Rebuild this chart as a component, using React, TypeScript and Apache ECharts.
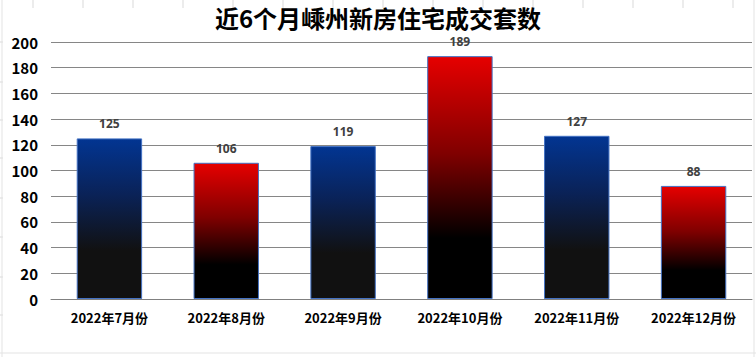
import React, { useEffect, useRef } from "react";
import * as echarts from "echarts";

const categories = ["2022年7月份", "2022年8月份", "2022年9月份", "2022年10月份", "2022年11月份", "2022年12月份"];
const values = [125, 106, 119, 189, 127, 88];
const barTheme = ["blue", "red", "blue", "red", "blue", "red"];

const blueGrad = () =>
  new echarts.graphic.LinearGradient(0, 0, 0, 1, [
    { offset: 0, color: "#023592" },
    { offset: 0.35, color: "#0a2257" },
    { offset: 0.7, color: "#111111" },
    { offset: 1, color: "#111111" },
  ]);
const redGrad = () =>
  new echarts.graphic.LinearGradient(0, 0, 0, 1, [
    { offset: 0, color: "#e60000" },
    { offset: 0.4, color: "#800000" },
    { offset: 0.75, color: "#000000" },
    { offset: 1, color: "#000000" },
  ]);

export default function App() {
  const ref = useRef<HTMLDivElement>(null);
  useEffect(() => {
    const chart = echarts.init(ref.current!, null, { renderer: "svg" });
    const bgLines: any[] = [];
    for (let x = 33; x < 756; x += 50) {
      bgLines.push({ type: "line", shape: { x1: x, y1: 0, x2: x, y2: 8 }, style: { stroke: "#d9d9d9", lineWidth: 1 } });
    }
    [42, 82, 120, 158, 198, 237, 277, 315].forEach((y) =>
      bgLines.push({ type: "line", shape: { x1: 0, y1: y, x2: 3, y2: y }, style: { stroke: "#d9d9d9", lineWidth: 1 } })
    );
    bgLines.push({ type: "line", shape: { x1: 2, y1: 0, x2: 2, y2: 357 }, style: { stroke: "#e3e3e3", lineWidth: 1 } });
    bgLines.push({ type: "line", shape: { x1: 754, y1: 0, x2: 754, y2: 357 }, style: { stroke: "#e3e3e3", lineWidth: 1 } });
    bgLines.push({ type: "line", shape: { x1: 0, y1: 353, x2: 756, y2: 353 }, style: { stroke: "#e3e3e3", lineWidth: 1 } });
    chart.setOption({
      animation: false,
      backgroundColor: "#ffffff",
      graphic: bgLines,
      title: {
        text: "近6个月嵊州新房住宅成交套数",
        left: "center",
        top: 4,
        padding: 0,
        textStyle: {
          fontFamily: "Noto Sans CJK SC",
          fontSize: 24,
          lineHeight: 26,
          fontWeight: "bold",
          color: "#000",
        },
      },
      grid: { left: 51, right: 4, top: 42, bottom: 58 },
      xAxis: {
        type: "category",
        data: categories,
        axisTick: { show: false },
        axisLine: { lineStyle: { color: "#808080", width: 1 } },
        axisLabel: {
          interval: 0,
          margin: 12,
          fontFamily: "Noto Sans CJK SC",
          fontSize: 13,
          fontWeight: "bold",
          color: "#000",
        },
      },
      yAxis: {
        type: "value",
        min: 0,
        max: 200,
        interval: 20,
        axisLine: { show: false },
        axisTick: { show: false },
        splitLine: { lineStyle: { color: "#868686", width: 1 } },
        axisLabel: {
          margin: 13,
          fontFamily: "Noto Sans CJK SC",
          fontSize: 15,
          fontWeight: "bold",
          color: "#000",
        },
      },
      series: [
        {
          type: "bar",
          barWidth: "56%",
          data: values.map((v, i) => ({
            value: v,
            itemStyle: {
              color: barTheme[i] === "blue" ? blueGrad() : redGrad(),
              borderColor: "#4472c4",
              borderWidth: 1,
            },
          })),
          label: {
            show: true,
            position: "top",
            distance: 8,
            fontFamily: "Noto Sans",
            fontSize: 12,
            lineHeight: 13,
            fontWeight: "bold",
            color: "#404040",
          },
        },
      ],
    });
    return () => chart.dispose();
  }, []);
  return <div ref={ref} style={{ position: "fixed", left: 0, top: 0, width: 756, height: 357 }} />;
}
